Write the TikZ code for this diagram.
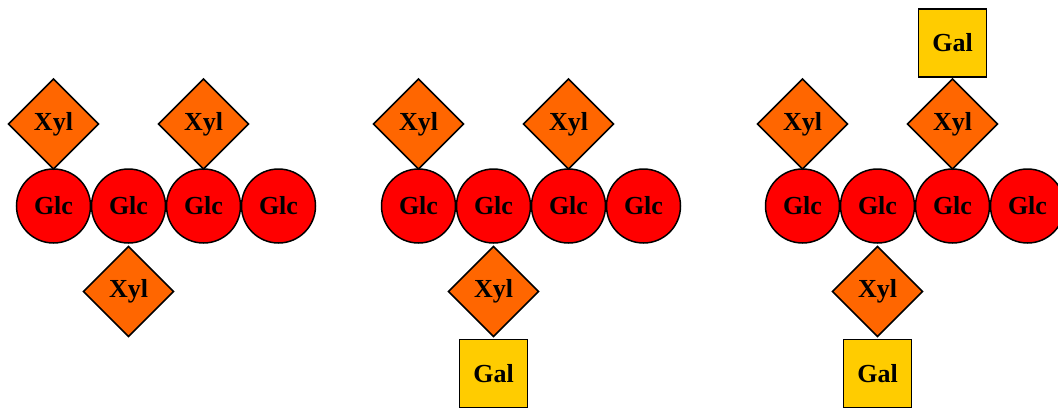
\documentclass[tikz,border=0pt]{standalone}
\usepackage{fontspec}
\setmainfont{Liberation Serif}
\usetikzlibrary{positioning, shapes.geometric}
\definecolor{glcred}{HTML}{FF0000}
\definecolor{xylorange}{HTML}{FF6600}
\definecolor{galyellow}{HTML}{FFCC00}

\begin{document}
\begin{tikzpicture}[x=1pt, y=1pt,
            glc/.style={draw=black, line width=1.5pt, circle, fill=glcred, minimum size=74pt, inner sep=0pt, outer sep=0pt, font=\bfseries\fontsize{26}{26}\selectfont},
            xyl/.style={draw=black, line width=1.5pt, diamond, aspect=1, fill=xylorange, minimum size=90pt, inner sep=0pt, outer sep=0pt, font=\bfseries\fontsize{26}{26}\selectfont},
            gal/.style={draw=black, line width=1.5pt, rectangle, fill=galyellow, minimum size=68pt, inner sep=0pt, outer sep=0pt, font=\bfseries\fontsize{26}{26}\selectfont}
        ]
        \useasboundingbox (0,0) rectangle (1058,-410);

        % Panel 1
        \node[glc] (a1) at (53.5,-206) {Glc};
        \node[glc, right=1pt of a1] (a2) {Glc};
        \node[glc, right=1pt of a2] (a3) {Glc};
        \node[glc, right=1pt of a3] (a4) {Glc};
        \node[xyl, above=0pt of a1] (ax1) {Xyl};
        \node[xyl, above=0pt of a3] (ax3) {Xyl};
        \node[xyl, below=3.5pt of a2] (ax2) {Xyl};

        % Panel 2
        \node[glc] (b1) at (418.5,-206) {Glc};
        \node[glc, right=1pt of b1] (b2) {Glc};
        \node[glc, right=1pt of b2] (b3) {Glc};
        \node[glc, right=1pt of b3] (b4) {Glc};
        \node[xyl, above=0pt of b1] (bx1) {Xyl};
        \node[xyl, above=0pt of b3] (bx3) {Xyl};
        \node[xyl, below=3.5pt of b2] (bx2) {Xyl};
        \node[gal, below=3pt of bx2] (bg2) {Gal};

        % Panel 3
        \node[glc] (c1) at (802.5,-206) {Glc};
        \node[glc, right=1pt of c1] (c2) {Glc};
        \node[glc, right=1pt of c2] (c3) {Glc};
        \node[glc, right=1pt of c3] (c4) {Glc};
        \node[xyl, above=0pt of c1] (cx1) {Xyl};
        \node[xyl, above=0pt of c3] (cx3) {Xyl};
        \node[gal, above=2pt of cx3] (cg3) {Gal};
        \node[xyl, below=3.5pt of c2] (cx2) {Xyl};
        \node[gal, below=3pt of cx2] (cg2) {Gal};

    \end{tikzpicture}
\end{document}
